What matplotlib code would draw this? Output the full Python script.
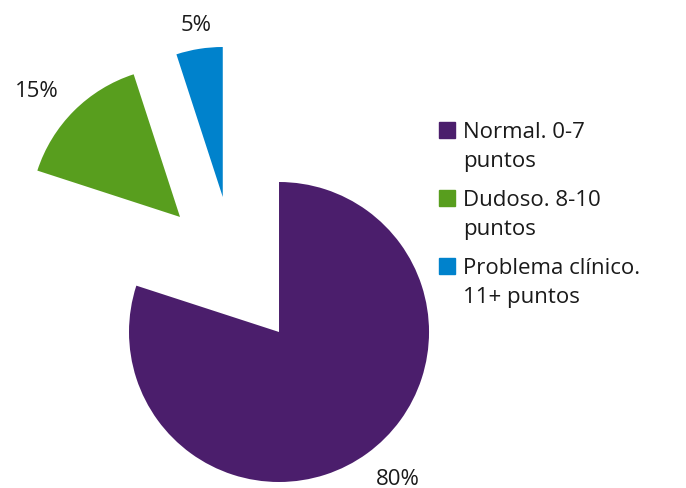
import matplotlib
matplotlib.use("Agg")
import matplotlib.pyplot as plt
from matplotlib.patches import Rectangle

categories = ["Normal. 0-7\npuntos", "Dudoso. 8-10\npuntos", "Problema clínico.\n11+ puntos"]
values = [80, 15, 5]
colors = ["#4b1e6c", "#589e1e", "#0082cc"]

# slice displacement (radius units), Excel-style explosion
offsets = [(0.0, 0.0), (-0.66, 0.767), (-0.375, 0.90)]
# small extra nudges for the percent labels
label_nudge = [(0.077, 0.013), (-0.09, -0.023), (0.01, -0.055)]

W, H = 686, 489
plt.rcParams["font.family"] = ["Open Sans", "DejaVu Sans"]
fig = plt.figure(figsize=(W / 100, H / 100), dpi=100)
ax = fig.add_axes([0, 0, 1, 1])

wedges, texts, pcts = ax.pie(values, colors=colors, startangle=90, counterclock=False,
                             radius=1.0, autopct="%d%%", pctdistance=1.22,
                             wedgeprops=dict(linewidth=0),
                             textprops=dict(fontsize=16, color="#1a1a1a"))
for w, t, (dx, dy), (nx, ny) in zip(wedges, pcts, offsets, label_nudge):
    w.set_center((dx, dy))
    x, y = t.get_position()
    t.set_position((x + dx + nx, y + dy + ny))

ax.set_xlim(-1.86, 2.713)
ax.set_ylim(-1.04, 2.22)
ax.set_aspect("auto")
ax.axis("off")

# legend drawn by hand so the swatch lines up with the first text line
y0 = 131
for i, (lab, c) in enumerate(zip(categories, colors)):
    yc = y0 + i * 68
    fig.patches.append(Rectangle((439 / W, 1 - (yc + 8) / H), 16 / W, 16 / H,
                                 transform=fig.transFigure, color=c))
    fig.text(463 / W, 1 - (yc - 9) / H, lab, fontsize=16, color="#1a1a1a",
             va="top", ha="left", linespacing=1.5)

fig.savefig("out.png", dpi=100)
plt.close(fig)
